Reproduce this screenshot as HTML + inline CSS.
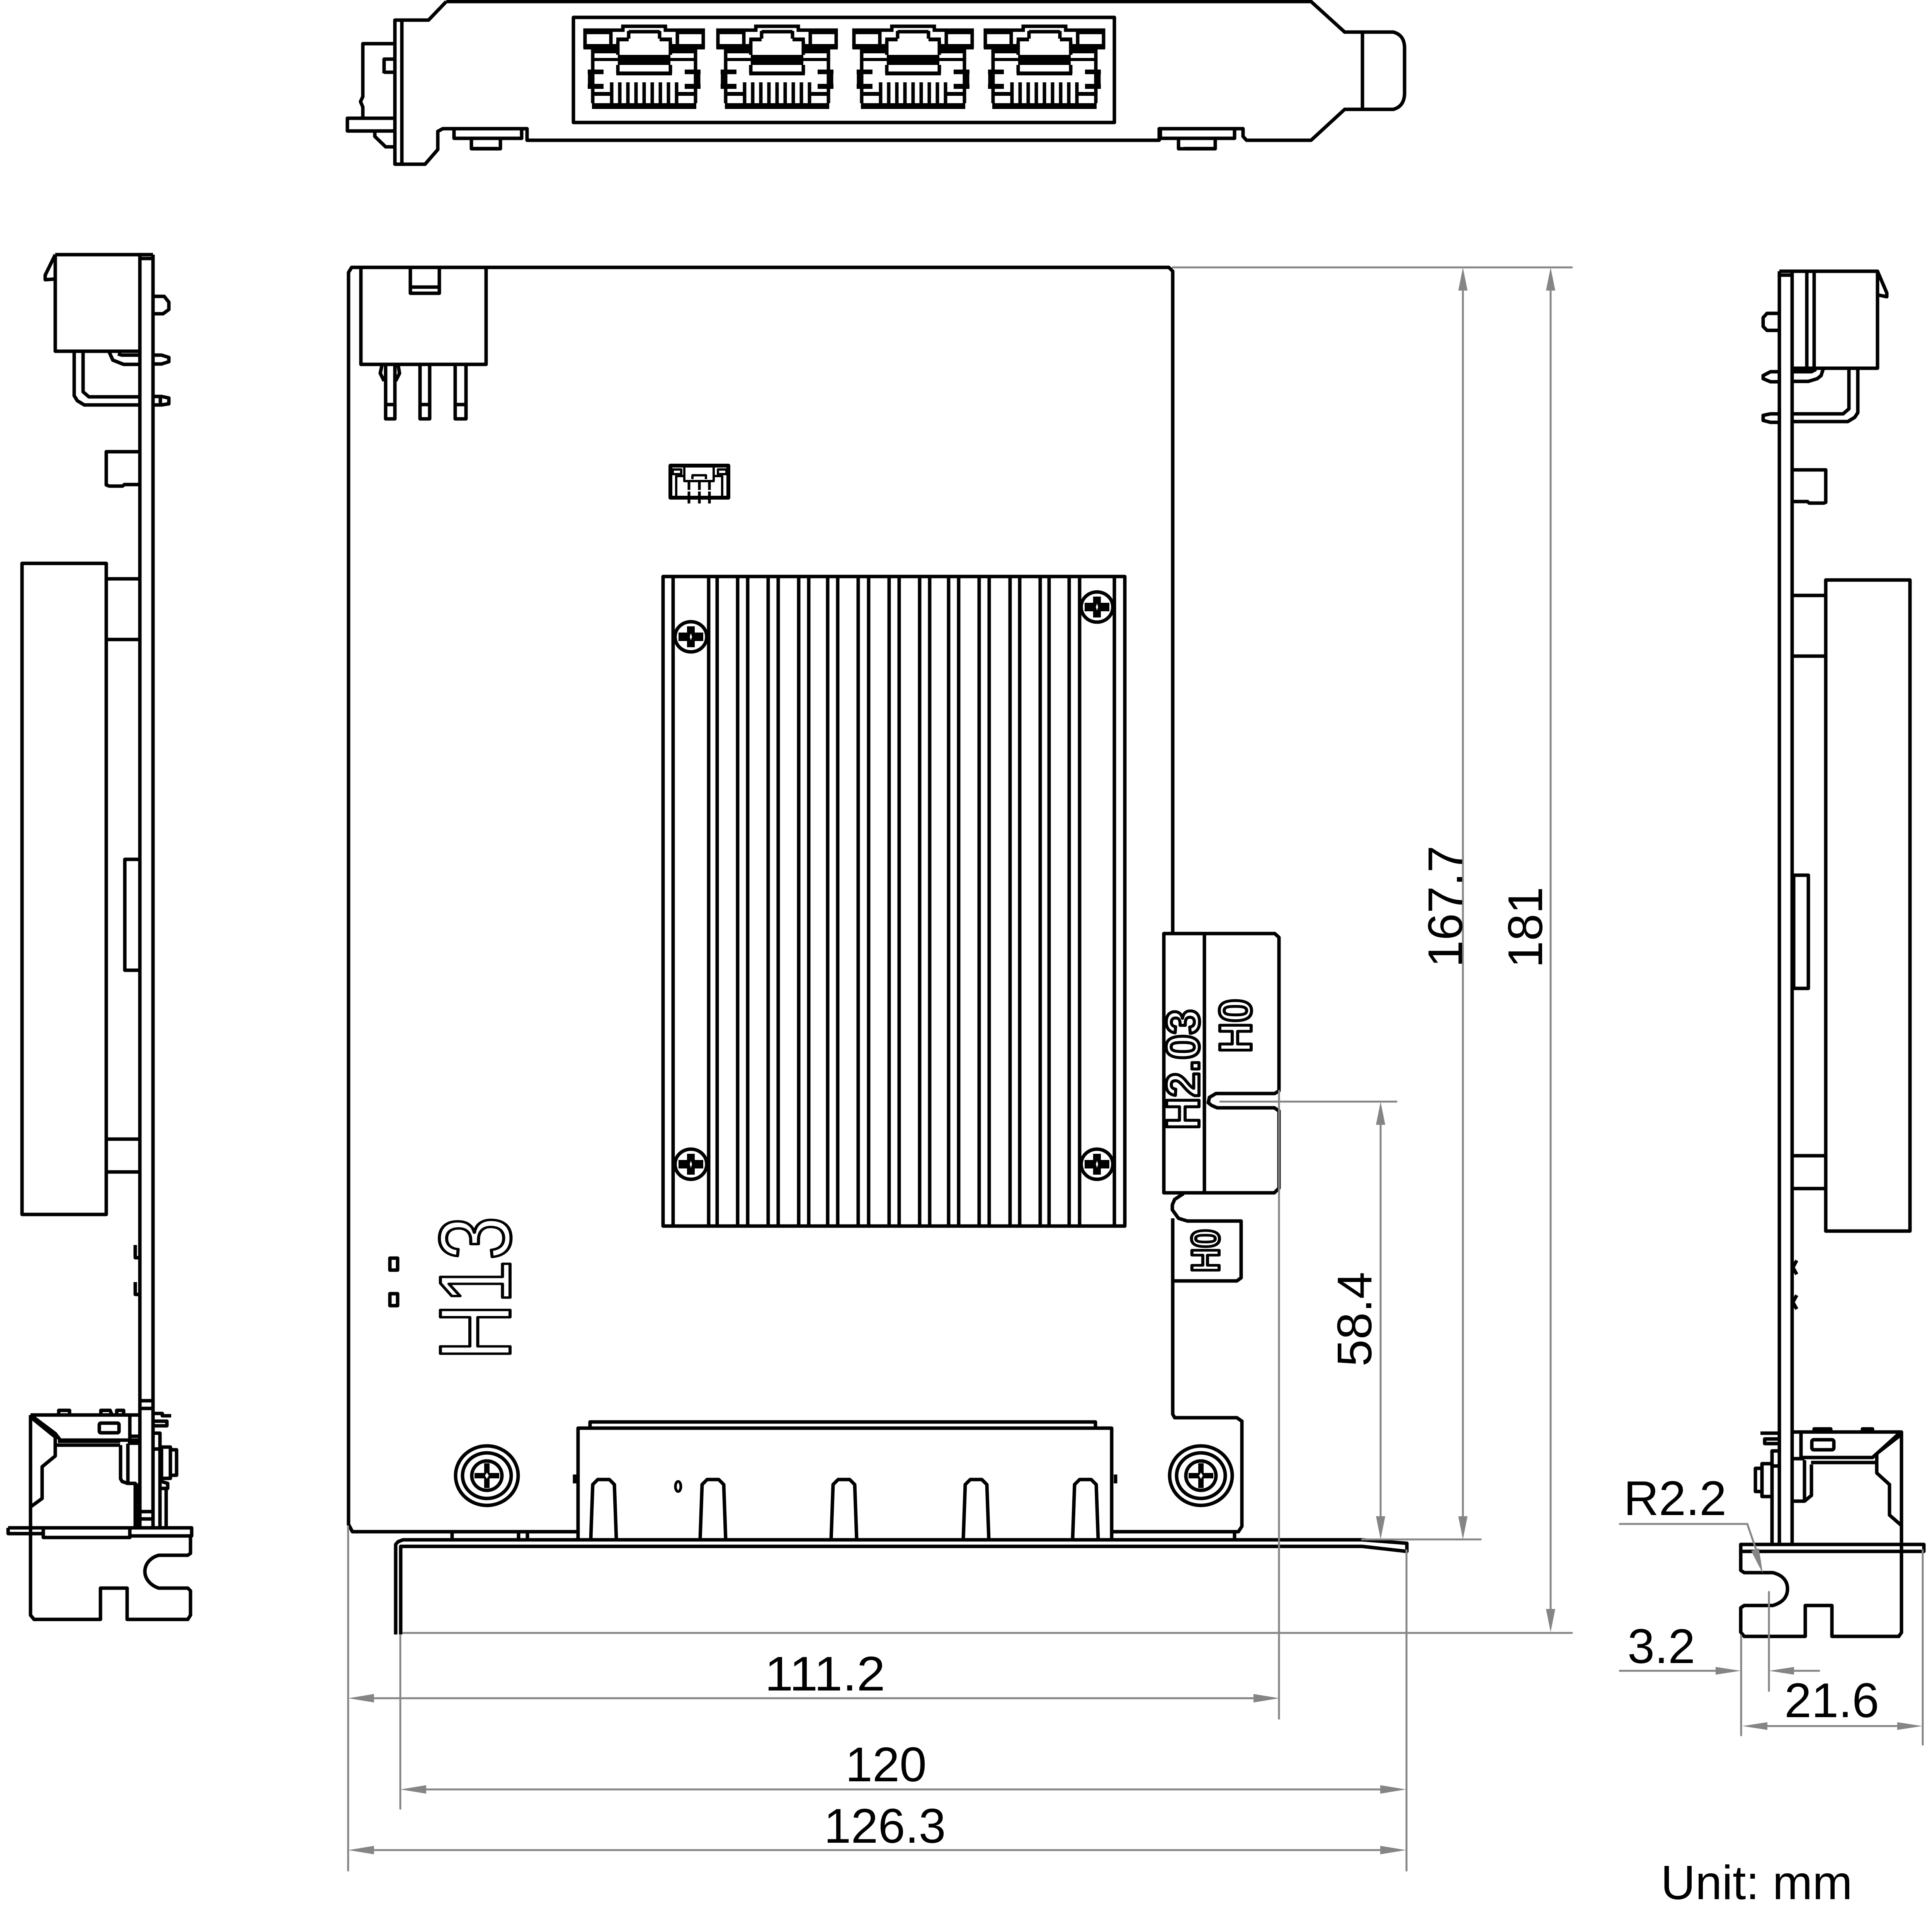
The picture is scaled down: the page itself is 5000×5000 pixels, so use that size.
<!DOCTYPE html>
<html><head><meta charset="utf-8"><title>Mechanical drawing</title>
<style>
html,body{margin:0;padding:0;background:#fff}
svg{display:block}
text{font-family:"Liberation Sans",sans-serif}
.d{font-size:126px;fill:#000}
.o{fill:#fff;stroke:#000;stroke-width:8;stroke-linejoin:round}
.b{font-weight:700}
</style></head><body>
<svg xmlns="http://www.w3.org/2000/svg" width="5000" height="5000" viewBox="0 0 5000 5000">
<rect width="5000" height="5000" fill="#fff"/>
<defs>
<g id="jack">
 <path d="M-153,125V78H-55V68H55V78H153V125M-152,84H-86V118M152,84H86V118" fill="none" stroke="#000" stroke-width="9"/>
 <path d="M-157,114H-68V128H-157ZM68,114H157V128H68ZM-133,128H-68V138H-133ZM68,128H133V138H68ZM-133,150H133V158H-133ZM-68,142H68V152H-68ZM-68,158H68V168H-68ZM-72,185H72V195H-72ZM-72,97H-40V107H-72ZM40,97H72V107H40ZM-133,238H-85V248H-133ZM85,238H133V248H85ZM-135,267H135V282H-135ZM-146,180H-105V192H-146ZM-146,217H-105V230H-146ZM105,180H146V192H105ZM105,217H146V230H105Z" fill="#000"/>
 <path d="M-40,80V100M40,80V100M-40,82H40M-68,107V142M68,107V142M-68,168V190M68,168V190M-133,128V267M133,128V267M-141,190V220M141,190V220" fill="none" stroke="#000" stroke-width="9"/>
 <path d="M-84,213V267M-63,213V267M-42,213V267M-21,213V267M0,213V267M21,213V267M42,213V267M63,213V267M84,213V267" fill="none" stroke="#000" stroke-width="9"/>
</g>
<g id="hs">
 <ellipse rx="41" ry="39" fill="#fff" stroke="#000" stroke-width="9"/>
 <path d="M-10,-27H10V-11H32V11H10V27H-10V11H-32V-11H-10Z" fill="#000"/>
 <path d="M0,-9L3,0L0,9L-3,0Z" fill="#fff"/>
</g>
<g id="bs">
 <ellipse rx="81" ry="77" fill="#fff" stroke="#000" stroke-width="9"/>
 <ellipse rx="63" ry="59" fill="none" stroke="#000" stroke-width="9"/>
 <ellipse rx="39" ry="38" fill="none" stroke="#000" stroke-width="9"/>
 <path d="M-7,-32H7V-7H32V7H7V32H-7V7H-32V-7H-7Z" fill="#000"/>
 <path d="M0,-8L5,0L0,8L-5,0Z" fill="#fff"/>
</g>
</defs>

<!-- TOP VIEW -->
<g fill="none" stroke="#000" stroke-width="9" stroke-linejoin="round">
 <path d="M1155,4H3393L3480,83H3606C3624,88 3635,100 3635,125V240C3635,265 3624,278 3606,283H3480L3393,363H3226L3217,353V333H3000V363H1364V333H1146L1133,340V387L1100,425H1022V52H1109L1155,4"/>
 <path d="M1040,52V425M3526,83V283"/>
 <path d="M1022,113H939V250L933,263L939,277V306"/>
 <rect x="899" y="306" width="123" height="33"/>
 <path d="M970,339V353L998,380H1022M994,190V153H1022M994,187H1022"/>
 <rect x="1484" y="45" width="1400" height="272"/>
 <path d="M1175,333V358H1350V333M1220,358V385H1295V358"/>
 <path d="M3003,333V358H3195V333M3050,358V385H3145V358"/>
</g>
<path d="M1222,380H1288V389H1222Z" fill="#000"/>
<path d="M3065,380H3140V389H3065Z" fill="#000"/>
<use href="#jack" x="1667"/><use href="#jack" x="2011"/><use href="#jack" x="2363"/><use href="#jack" x="2703"/>

<!-- LEFT VIEW -->
<g fill="none" stroke="#000" stroke-width="9" stroke-linejoin="round">
 <path d="M362,659V3950M396,659V3950M143,659H396M362,669H396"/>
 <path d="M143,659V909H362M143,659L117,712V724L143,722"/>
 <path d="M396,767H425L437,782V801L422,812H396M396,919H418L437,925V936L418,942H396M396,1026H418L437,1030V1045L418,1048H396M415,1026V1048"/>
 <path d="M192,909V1024L200,1037L218,1048H362M215,909V1014L230,1027H362M283,912L292,932L320,943H362M305,916L315,919H362"/>
 <path d="M362,1169H275V1255L283,1258H317L322,1254H362V1268"/>
 <rect x="57" y="1458" width="218" height="1685"/>
 <path d="M275,1498H362M275,1655H362M275,2948H362M275,3033H362"/>
 <rect x="323" y="2224" width="39" height="287"/>
 <path d="M350,3222V3255H362M350,3318V3350H362"/>
 <path d="M362,3625H396M362,3645H396M362,3912H396M362,3931H396"/>
 <path d="M79,3662V4180L88,4191H260V4110H329V4191H486L493,4180V4117L486,4110H411C392,4104 375,4088 375,4067C375,4045 392,4030 411,4025H486L493,4020V3975"/>
 <path d="M21,3954H496V3975H340M21,3954V3969H112M112,3954V3979H336V3954M79,3662H362"/>
 <path d="M79,3662L143,3710L156,3727H336M336,3662V3727M85,3672L143,3719"/>
 <path d="M143,3717V3768L109,3796V3878L79,3900"/>
 <path d="M143,3740H311M150,3730H311M312,3740V3827L316,3834L330,3839H350V3954M331,3736V3839M331,3735H362M336,3717H362M336,3727H362"/>
 <rect x="257" y="3683" width="51" height="25" rx="4"/>
 <path d="M152,3660V3650H180V3660M261,3660V3650H285L289,3660M302,3660V3650H320V3660"/>
 <path d="M396,3658H420V3664H443M396,3678H432V3690H396M396,3709H414V3950M396,3750H414M418,3745H441V3826H418ZM441,3752H457V3818H441M414,3833L434,3839V3852H414M430,3852V3950"/>
</g>
<path d="M350,3839H362V3950H350Z" fill="#000"/>
<path d="M85,3662L146,3712L143,3720L80,3672Z" fill="#000"/>

<!-- MAIN BOARD -->
<g fill="none" stroke="#000" stroke-width="9" stroke-linejoin="round">
 <path d="M1496,3964H912L902,3945V705L910,692H3025L3035,702V2416"/>
 <path d="M2877,3964H3205L3214,3950V3678L3201,3669H3040L3035,3660V3315"/>
 <path d="M3035,3153V3315H3201L3212,3307V3160H3073L3050,3153L3034,3131V3118L3040,3104L3063,3089"/>
 <path d="M3012,2416H3299L3310,2426V2823L3299,2830H3147L3130,2840L3127,2854L3136,2861L3150,2867H3298L3310,2875V3075L3298,3087H3012ZM3117,2416V3087"/>
 <!-- top connector -->
 <rect x="934" y="692" width="324" height="251"/>
 <path d="M1062,692V759H1137V692M1062,743H1137"/>
 <path d="M998,943V1084H1022V943M1087,943V1084H1112V943M1178,943V1084H1206V943M998,1047H1022M1087,1047H1112M1178,1047H1206"/>
 <path d="M989,943L984,966L994,986M1030,943L1034,966L1024,986"/>
 <!-- small connector -->
 <rect x="1735" y="1205" width="150" height="83" stroke-width="10"/>
 <rect x="1741" y="1215" width="22" height="12" stroke-width="6"/>
 <rect x="1858" y="1215" width="22" height="12" stroke-width="6"/>
 <path d="M1771,1209V1245H1847V1209M1750,1283V1232H1771M1869,1283V1232H1847M1792,1240V1230H1827V1240" stroke-width="6"/>
 <path d="M1783,1247V1268M1810,1247V1268M1836,1247V1268M1783,1272V1303M1810,1272V1303M1836,1272V1303" stroke-width="7"/>
 <!-- heatsink -->
 <rect x="1716" y="1492" width="1195" height="1681"/>
 <path d="M1742,1492V3173M1834,1492V3173M1856,1492V3173M1909,1492V3173M1935,1492V3173M1988,1492V3173M2014,1492V3173M2067,1492V3173M2093,1492V3173M2142,1492V3173M2168,1492V3173M2221,1492V3173M2248,1492V3173M2301,1492V3173M2327,1492V3173M2380,1492V3173M2406,1492V3173M2455,1492V3173M2481,1492V3173M2534,1492V3173M2560,1492V3173M2614,1492V3173M2639,1492V3173M2692,1492V3173M2715,1492V3173M2767,1492V3173M2794,1492V3173M2884,1492V3173"/>
 <!-- marks -->
 <rect x="1009" y="3256" width="20" height="31"/>
 <rect x="1009" y="3348" width="20" height="31"/>
 <!-- lower connector -->
 <path d="M1496,3985V3696H2877V3985M1527,3696V3680H2835V3696M1487,3816V3839M2887,3816V3839"/>
 <path d="M1529,3982L1534,3842L1547,3829H1577L1590,3842L1595,3982"/>
 <path d="M1812,3982L1817,3842L1830,3829H1860L1873,3842L1878,3982"/>
 <path d="M2151,3982L2156,3842L2169,3829H2199L2212,3842L2217,3982"/>
 <path d="M2493,3982L2498,3842L2511,3829H2541L2554,3842L2559,3982"/>
 <path d="M2776,3982L2781,3842L2794,3829H2824L2837,3842L2842,3982"/>
 <ellipse cx="1755" cy="3847" rx="7" ry="13" stroke-width="7"/>
 <path d="M1170,3964V3985M1342,3964V3985M1365,3964V3985M3195,3964V3985"/>
 <!-- bracket -->
 <path d="M1024,4230V3997L1030,3990L1043,3985H3525L3641,3994V4015L3525,4002H1037V4230"/>
</g>
<use href="#hs" x="1788" y="1648"/><use href="#hs" x="2839" y="1571"/>
<use href="#hs" x="1788" y="3013"/><use href="#hs" x="2839" y="3013"/>
<use href="#bs" x="1260" y="3819"/><use href="#bs" x="3108" y="3819"/>

<text class="o" font-size="262" textLength="372" lengthAdjust="spacingAndGlyphs" transform="translate(1320,3520) rotate(-90)">H13</text>
<text class="o b" font-size="122" textLength="312" lengthAdjust="spacingAndGlyphs" transform="translate(3103,2924) rotate(-90)">H2.03</text>
<text class="o b" font-size="118" textLength="140" lengthAdjust="spacingAndGlyphs" transform="translate(3238,2725) rotate(-90)">H0</text>
<text class="o b" font-size="102" textLength="112" lengthAdjust="spacingAndGlyphs" transform="translate(3155,3293) rotate(-90)">H0</text>

<!-- RIGHT VIEW -->
<g fill="none" stroke="#000" stroke-width="9" stroke-linejoin="round">
 <path d="M4605,702V3997M4638,702V3997M4605,702H4859M4605,712H4638"/>
 <path d="M4638,953H4859V702L4883,758V768L4859,763"/>
 <path d="M4676,702V953M4695,702V953"/>
 <path d="M4605,811H4573L4563,822V845L4573,855H4605M4605,962H4582L4563,972V980L4582,988H4605M4605,1071H4582L4563,1075V1088L4582,1093H4605"/>
 <path d="M4638,1071H4770L4785,1058V953M4808,953V1068L4800,1080L4782,1091H4638M4638,962H4688L4700,956M4638,987H4680L4703,980L4713,972L4718,956"/>
 <path d="M4638,1216H4725V1300L4720,1302H4682L4678,1298H4638"/>
 <rect x="4725" y="1501" width="218" height="1685"/>
 <path d="M4638,1541H4725M4638,1698H4725M4638,2991H4725M4638,3076H4725"/>
 <rect x="4642" y="2265" width="38" height="293"/>
 <path d="M4650,3262L4640,3280L4650,3298M4650,3352L4640,3370L4650,3388"/>
 <path d="M4638,3706H4921V4225L4914,4235H4741V4155H4672V4235H4514L4505,4224V4161L4514,4155H4588C4612,4148 4626,4134 4626,4112C4626,4090 4612,4076 4588,4070H4514L4505,4064V3997H4979V4015H4505"/>
 <path d="M4661,3706V3773M4661,3772H4846L4917,3708M4921,3712L4857,3762V3812L4890,3842V3921L4921,3948"/>
 <path d="M4687,3785H4857M4688,3790V3870L4670,3885H4638M4670,3779V3885M4638,3775H4670"/>
 <rect x="4689" y="3726" width="57" height="26" rx="5"/>
 <path d="M4695,3704V3698H4738V3704M4820,3704V3698H4846V3704"/>
 <path d="M4586,3997V3755H4605M4586,3794H4605M4560,3788H4586V3873H4560ZM4543,3800H4560V3860H4543ZM4556,3709H4605M4567,3724H4605V3736H4567Z"/>
</g>

<!-- DIMENSIONS -->
<g fill="none" stroke="#858585" stroke-width="5" stroke-linecap="round">
 <path d="M3035,692H4068M3525,3984H3832M1044,4226H4068M3158,2851H3614"/>
 <path d="M901,3950V4841M1036,4232V4681M3310,2823V4448M3640,4012V4841"/>
 <path d="M3573,2900V3930M3786,740V3930M4013,740V4170"/>
 <path d="M950,4395H3260M1090,4631H3590M950,4788H3590"/>
 <path d="M4192,3944H4522L4555,4040M4192,4324H4450M4640,4324H4708M4578,4120V4376M4506,4233V4491M4976,4012V4515M4570,4467H4915"/>
</g>
<g fill="#858585">
 <path d="M3573,2851l-12,60h24ZM3573,3984l-12,-60h24ZM3786,692l-12,60h24ZM3786,3984l-12,-60h24ZM4013,692l-12,60h24ZM4013,4224l-12,-60h24Z"/>
 <path d="M901,4395l67,-11v22ZM3311,4395l-67,-11v22ZM1036,4631l67,-11v22ZM3639,4631l-67,-11v22ZM901,4788l67,-11v22ZM3639,4788l-67,-11v22Z"/>
 <path d="M4505,4324l-65,-10v20ZM4578,4324l65,-10v20ZM4509,4467l65,-10v20ZM4975,4467l-65,-10v20ZM4562,4072l-30,-58l20,-7Z"/>
</g>
<g class="d">
 <text class="d" x="2135" y="4375" text-anchor="middle" textLength="312" lengthAdjust="spacingAndGlyphs">111.2</text>
 <text class="d" x="2293" y="4610" text-anchor="middle">120</text>
 <text class="d" x="2290" y="4769" text-anchor="middle">126.3</text>
 <text class="d" text-anchor="middle" transform="translate(3784,2346) rotate(-90)">167.7</text>
 <text class="d" text-anchor="middle" transform="translate(3991,2400) rotate(-90)">181</text>
 <text class="d" text-anchor="middle" transform="translate(3549,3414) rotate(-90)">58.4</text>
 <text class="d" x="4202" y="3921">R2.2</text>
 <text class="d" x="4212" y="4304">3.2</text>
 <text class="d" x="4618" y="4444">21.6</text>
 <text class="d" x="4298" y="4915" style="font-size:124px">Unit: mm</text>
</g>
</svg>
</body></html>
